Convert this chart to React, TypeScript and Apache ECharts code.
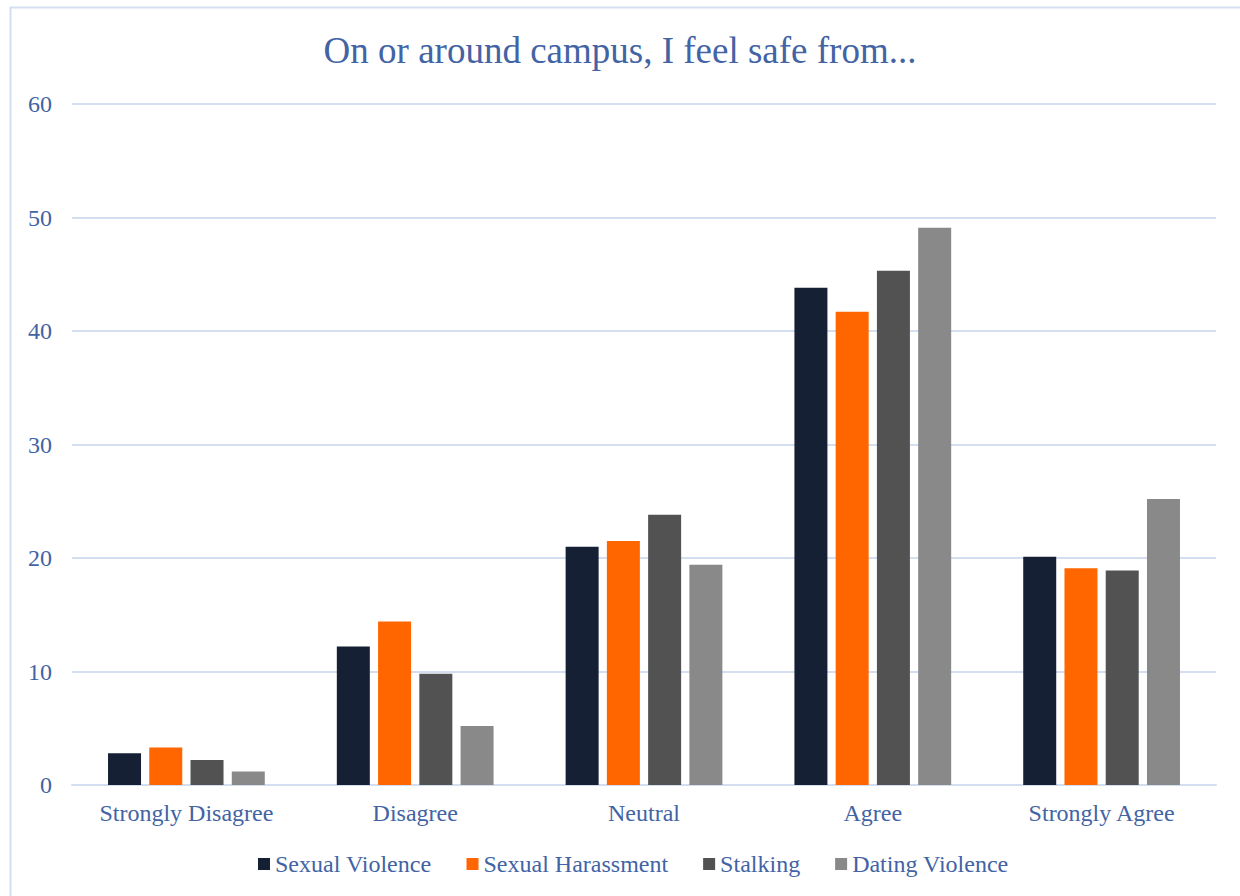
import React, { useEffect, useRef } from "react";
import * as echarts from "echarts";

const categories = ["Strongly Disagree", "Disagree", "Neutral", "Agree", "Strongly Agree"];
const seriesNames = ["Sexual Violence", "Sexual Harassment", "Stalking", "Dating Violence"];
const sexualViolence = [2.8, 12.2, 21.0, 43.8, 20.1];
const sexualHarassment = [3.3, 14.4, 21.5, 41.7, 19.1];
const stalking = [2.2, 9.8, 23.8, 45.3, 18.9];
const datingViolence = [1.2, 5.2, 19.4, 49.1, 25.2];
const colors = ["#152035", "#FF6600", "#525252", "#898989"];

const textColor = "#4263A4";
const font = "'Liberation Serif', 'Times New Roman', serif";

export default function App() {
  const ref = useRef<HTMLDivElement>(null);
  useEffect(() => {
    if (!ref.current) return;
    const chart = echarts.init(ref.current, null, { renderer: "svg" });
    const values = [sexualViolence, sexualHarassment, stalking, datingViolence];
    chart.setOption({
      animation: false,
      backgroundColor: "#ffffff",
      textStyle: { fontFamily: font },
      graphic: [
        {
          type: "rect",
          shape: { x: 10.5, y: 7.5, width: 1250, height: 900 },
          style: { fill: "none", stroke: "#D3DEF0", lineWidth: 2 },
          silent: true,
        },
      ],
      title: {
        text: "On or around campus, I feel safe from...",
        left: "center",
        top: 27,
        textStyle: { fontFamily: font, fontSize: 37, fontWeight: "normal", color: textColor },
      },
      legend: {
        data: seriesNames,
        bottom: 15,
        left: 253,
        itemWidth: 12,
        itemHeight: 12,
        itemGap: 35,
        icon: "rect",
        textStyle: { fontFamily: font, fontSize: 24, color: textColor },
      },
      grid: { left: 72, right: 24, top: 104, bottom: 111, containLabel: false },
      xAxis: {
        type: "category",
        data: categories,
        axisLine: { show: true, lineStyle: { color: "#D3DEF0", width: 2 } },
        axisTick: { show: false },
        axisLabel: { fontFamily: font, fontSize: 24, color: textColor, margin: 16 },
      },
      yAxis: {
        type: "value",
        min: 0,
        max: 60,
        interval: 10,
        axisLine: { show: false },
        axisTick: { show: false },
        axisLabel: { fontFamily: font, fontSize: 24, color: textColor, margin: 20 },
        splitLine: { lineStyle: { color: "#D3DEF0", width: 2 } },
      },
      series: seriesNames.map((name, i) => ({
        name,
        type: "bar",
        data: values[i],
        barWidth: 33,
        barGap: "25%",
        itemStyle: { color: colors[i] },
      })),
    });
    return () => chart.dispose();
  }, []);
  return <div ref={ref} style={{ width: 1240, height: 896, position: "absolute", left: 0, top: 0 }} />;
}
